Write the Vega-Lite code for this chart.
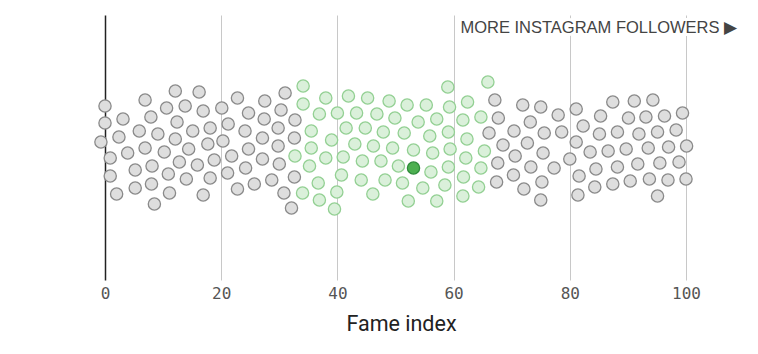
{
"$schema": "https://vega.github.io/schema/vega-lite/v6.json",
"width": 581, "height": 265,
"autosize": {"type": "none"},
"padding": {"left": 105, "top": 15, "right": 72, "bottom": 74},
"background": "white",
"config": {"view": {"stroke": null}},
"layer": [
{
"data": {"values": [
{"f":0.0,"v":39,"g":"gray"},{"f":0.0,"v":22,"g":"gray"},{"f":-0.7,"v":3,"g":"gray"},{"f":0.9,"v":-13,"g":"gray"},{"f":0.9,"v":-31,"g":"gray"},{"f":2.0,"v":-49,"g":"gray"},{"f":3.1,"v":26,"g":"gray"},{"f":2.4,"v":8,"g":"gray"},{"f":3.9,"v":-8,"g":"gray"},{"f":5.2,"v":-25,"g":"gray"},{"f":5.2,"v":-43,"g":"gray"},{"f":6.9,"v":45,"g":"gray"},{"f":5.9,"v":14,"g":"gray"},{"f":6.9,"v":-3,"g":"gray"},{"f":8.1,"v":-21,"g":"gray"},{"f":8.0,"v":-39,"g":"gray"},{"f":8.5,"v":-59,"g":"gray"},{"f":7.9,"v":28,"g":"gray"},{"f":9.1,"v":11,"g":"gray"},{"f":10.2,"v":-7,"g":"gray"},{"f":10.9,"v":-29,"g":"gray"},{"f":11.1,"v":-48,"g":"gray"},{"f":12.1,"v":54,"g":"gray"},{"f":10.6,"v":37,"g":"gray"},{"f":12.4,"v":23,"g":"gray"},{"f":12.1,"v":6,"g":"gray"},{"f":12.8,"v":-17,"g":"gray"},{"f":14.0,"v":-34,"g":"gray"},{"f":13.8,"v":39,"g":"gray"},{"f":16.2,"v":53,"g":"gray"},{"f":16.9,"v":34,"g":"gray"},{"f":15.1,"v":14,"g":"gray"},{"f":14.4,"v":-4,"g":"gray"},{"f":15.9,"v":-20,"g":"gray"},{"f":16.9,"v":-50,"g":"gray"},{"f":18.1,"v":17,"g":"gray"},{"f":17.7,"v":1,"g":"gray"},{"f":18.1,"v":-33,"g":"gray"},{"f":18.8,"v":-15,"g":"gray"},
{"f":20.1,"v":37,"g":"gray"},{"f":22.8,"v":47,"g":"gray"},{"f":21.2,"v":21,"g":"gray"},{"f":20.3,"v":4,"g":"gray"},{"f":21.8,"v":-11,"g":"gray"},{"f":21.1,"v":-28,"g":"gray"},{"f":22.8,"v":-44,"g":"gray"},{"f":24.7,"v":32,"g":"gray"},{"f":24.1,"v":14,"g":"gray"},{"f":24.7,"v":-4,"g":"gray"},{"f":24.2,"v":-23,"g":"gray"},{"f":25.7,"v":-39,"g":"gray"},{"f":27.5,"v":44,"g":"gray"},{"f":27.4,"v":26,"g":"gray"},{"f":27.1,"v":7,"g":"gray"},{"f":27.1,"v":-14,"g":"gray"},{"f":28.7,"v":-35,"g":"gray"},{"f":31.0,"v":52,"g":"gray"},{"f":30.3,"v":35,"g":"gray"},{"f":29.8,"v":17,"g":"gray"},{"f":29.8,"v":-1,"g":"gray"},{"f":30.0,"v":-19,"g":"gray"},{"f":30.8,"v":-48,"g":"gray"},{"f":32.7,"v":25,"g":"gray"},{"f":32.6,"v":7,"g":"gray"},{"f":32.6,"v":-32,"g":"gray"},{"f":32.1,"v":-63,"g":"gray"},
{"f":34.1,"v":59,"g":"green"},{"f":34.1,"v":41,"g":"green"},{"f":38.0,"v":47,"g":"green"},{"f":41.9,"v":49,"g":"green"},{"f":45.2,"v":47,"g":"green"},{"f":48.9,"v":44,"g":"green"},{"f":36.9,"v":31,"g":"green"},{"f":40.0,"v":32,"g":"green"},{"f":43.3,"v":32,"g":"green"},{"f":46.8,"v":31,"g":"green"},{"f":49.9,"v":27,"g":"green"},{"f":35.5,"v":14,"g":"green"},{"f":41.5,"v":17,"g":"green"},{"f":44.8,"v":17,"g":"green"},{"f":47.9,"v":13,"g":"green"},{"f":39.0,"v":5,"g":"green"},{"f":35.5,"v":-3,"g":"green"},{"f":43.0,"v":1,"g":"green"},{"f":46.2,"v":-1,"g":"green"},{"f":49.5,"v":-3,"g":"green"},{"f":32.7,"v":-11,"g":"green"},{"f":38.0,"v":-13,"g":"green"},{"f":41.0,"v":-12,"g":"green"},{"f":44.3,"v":-16,"g":"green"},{"f":47.5,"v":-16,"g":"green"},{"f":50.5,"v":-21,"g":"green"},{"f":35.2,"v":-21,"g":"green"},{"f":40.7,"v":-30,"g":"green"},{"f":36.7,"v":-38,"g":"green"},{"f":44.1,"v":-35,"g":"green"},{"f":48.2,"v":-35,"g":"green"},{"f":34.0,"v":-48,"g":"green"},{"f":39.9,"v":-47,"g":"green"},{"f":46.1,"v":-49,"g":"green"},{"f":36.9,"v":-55,"g":"green"},{"f":39.5,"v":-64,"g":"green"},
{"f":52.0,"v":40,"g":"green"},{"f":55.3,"v":40,"g":"green"},{"f":59.0,"v":58,"g":"green"},{"f":59.3,"v":38,"g":"green"},{"f":53.9,"v":23,"g":"green"},{"f":57.1,"v":26,"g":"green"},{"f":61.6,"v":25,"g":"green"},{"f":62.4,"v":43,"g":"green"},{"f":64.7,"v":28,"g":"green"},{"f":65.9,"v":63,"g":"green"},{"f":51.5,"v":12,"g":"green"},{"f":55.9,"v":9,"g":"green"},{"f":59.1,"v":13,"g":"green"},{"f":62.3,"v":6,"g":"green"},{"f":53.1,"v":-5,"g":"green"},{"f":56.4,"v":-8,"g":"green"},{"f":59.4,"v":-4,"g":"green"},{"f":65.3,"v":-6,"g":"green"},{"f":56.1,"v":-27,"g":"green"},{"f":59.1,"v":-22,"g":"green"},{"f":62.1,"v":-13,"g":"green"},{"f":64.7,"v":-23,"g":"green"},{"f":51.2,"v":-38,"g":"green"},{"f":54.7,"v":-43,"g":"green"},{"f":58.5,"v":-40,"g":"green"},{"f":61.7,"v":-32,"g":"green"},{"f":64.3,"v":-42,"g":"green"},{"f":52.2,"v":-56,"g":"green"},{"f":57.1,"v":-56,"g":"green"},{"f":61.6,"v":-51,"g":"green"},
{"f":53.1,"v":-23,"g":"hl"},
{"f":67.1,"v":45,"g":"gray"},{"f":66.1,"v":12,"g":"gray"},{"f":67.7,"v":27,"g":"gray"},{"f":68.5,"v":0,"g":"gray"},{"f":67.6,"v":-18,"g":"gray"},{"f":67.4,"v":-37,"g":"gray"},
{"f":71.9,"v":40,"g":"gray"},{"f":75.0,"v":38,"g":"gray"},{"f":78.0,"v":30,"g":"gray"},{"f":81.1,"v":36,"g":"gray"},{"f":73.2,"v":23,"g":"gray"},{"f":70.4,"v":14,"g":"gray"},{"f":75.6,"v":12,"g":"gray"},{"f":78.6,"v":13,"g":"gray"},{"f":82.3,"v":19,"g":"gray"},{"f":72.7,"v":2,"g":"gray"},{"f":70.6,"v":-11,"g":"gray"},{"f":75.4,"v":-8,"g":"gray"},{"f":81.1,"v":3,"g":"gray"},{"f":80.0,"v":-14,"g":"gray"},{"f":83.5,"v":-7,"g":"gray"},{"f":73.3,"v":-22,"g":"gray"},{"f":77.3,"v":-23,"g":"gray"},{"f":70.3,"v":-30,"g":"gray"},{"f":75.2,"v":-37,"g":"gray"},{"f":81.6,"v":-31,"g":"gray"},{"f":72.1,"v":-44,"g":"gray"},{"f":75.0,"v":-55,"g":"gray"},{"f":81.4,"v":-50,"g":"gray"},
{"f":85.3,"v":29,"g":"gray"},{"f":85.1,"v":11,"g":"gray"},{"f":84.5,"v":-24,"g":"gray"},{"f":84.3,"v":-42,"g":"gray"},{"f":87.4,"v":43,"g":"gray"},{"f":88.2,"v":13,"g":"gray"},{"f":86.6,"v":-6,"g":"gray"},{"f":88.2,"v":-22,"g":"gray"},{"f":87.4,"v":-39,"g":"gray"},{"f":91.1,"v":44,"g":"gray"},{"f":94.3,"v":45,"g":"gray"},{"f":90.1,"v":27,"g":"gray"},{"f":93.1,"v":28,"g":"gray"},{"f":96.3,"v":29,"g":"gray"},{"f":99.4,"v":32,"g":"gray"},{"f":91.9,"v":11,"g":"gray"},{"f":95.1,"v":13,"g":"gray"},{"f":98.3,"v":15,"g":"gray"},{"f":89.7,"v":-4,"g":"gray"},{"f":93.5,"v":-3,"g":"gray"},{"f":97.0,"v":-2,"g":"gray"},{"f":100.1,"v":-1,"g":"gray"},{"f":91.7,"v":-19,"g":"gray"},{"f":95.5,"v":-18,"g":"gray"},{"f":98.8,"v":-17,"g":"gray"},{"f":90.4,"v":-36,"g":"gray"},{"f":93.7,"v":-34,"g":"gray"},{"f":96.9,"v":-35,"g":"gray"},{"f":100.0,"v":-34,"g":"gray"},{"f":95.1,"v":-51,"g":"gray"}
]},
"mark": {"type": "circle", "opacity": 1, "size": 150, "strokeWidth": 1.3},
"encoding": {
"x": {"field": "f", "type": "quantitative",
"scale": {"domain": [0, 100], "nice": false, "zero": false},
"axis": {"title": "Fame index", "values": [0, 20, 40, 60, 80, 100], "grid": true,
"gridColor": {"condition": {"test": "datum.value === 0", "value": "#222222"}, "value": "#c8c8c8"},
"gridWidth": {"condition": {"test": "datum.value === 0", "value": 1.5}, "value": 1},
"domain": false, "ticks": false, "labelFlush": false,
"labelFont": "DejaVu Sans Mono", "labelFontSize": 16, "labelColor": "#555555", "labelPadding": 5,
"titleFont": "Roboto", "titleFontSize": 21.5, "titleFontWeight": "normal", "titleColor": "#222222", "titlePadding": 12, "titleX": 296}},
"y": {"field": "v", "type": "quantitative", "scale": {"domain": [-135, 130], "nice": false, "zero": false}, "axis": null},
"fill": {"field": "g", "type": "nominal", "scale": {"domain": ["gray", "green", "hl"], "range": ["#dedede", "#daf0da", "#4caf50"]}, "legend": null},
"stroke": {"field": "g", "type": "nominal", "scale": {"domain": ["gray", "green", "hl"], "range": ["#8a8a8a", "#93d093", "#2e8b3a"]}, "legend": null},
"order": {"field": "g", "type": "nominal"}
}
},
{
"data": {"values": [{"t": "MORE INSTAGRAM FOLLOWERS ▶"}]},
"mark": {"type": "text", "align": "right", "baseline": "alphabetic", "font": "Liberation Sans", "fontSize": 16.5, "fill": "white", "stroke": "white", "strokeWidth": 6},
"encoding": {"x": {"datum": 108.8, "type": "quantitative"}, "y": {"datum": 112, "type": "quantitative"}, "text": {"field": "t"}}
},
{
"data": {"values": [{"t": "MORE INSTAGRAM FOLLOWERS ▶"}]},
"mark": {"type": "text", "align": "right", "baseline": "alphabetic", "font": "Liberation Sans", "fontSize": 16.5, "fill": "#444444"},
"encoding": {"x": {"datum": 108.8, "type": "quantitative"}, "y": {"datum": 112, "type": "quantitative"}, "text": {"field": "t"}}
}
]
}
